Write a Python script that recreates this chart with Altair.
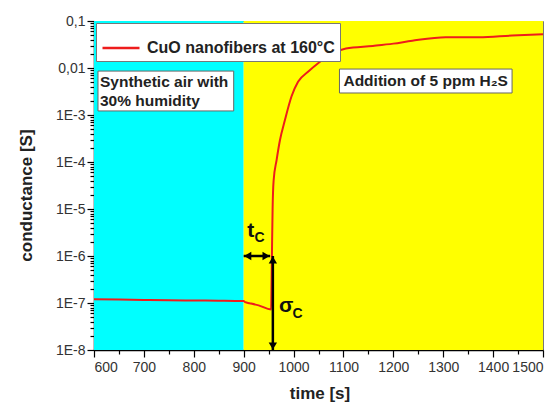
import altair as alt
import pandas as pd

# --- data ---
time_s = [600, 650, 700, 750, 800, 850, 900, 903, 912, 930, 955, 956, 957, 958, 960,
          966, 972.7, 982.7, 996, 1009, 1029, 1053, 1072, 1105, 1159, 1200, 1238,
          1305, 1372, 1438, 1500]
conductance = [1.2e-7, 1.18e-7, 1.16e-7, 1.14e-7, 1.13e-7, 1.12e-7, 1.1e-7, 1.04e-7,
               9.9e-8, 8.9e-8, 7.3e-8, 3e-7, 2e-6, 1e-5, 4e-5, 1.1e-4, 2.9e-4, 7.8e-4,
               2.5e-3, 5.1e-3, 8.3e-3, 1.36e-2, 1.9e-2, 2.6e-2, 2.95e-2, 3.3e-2, 3.8e-2,
               4.5e-2, 4.5e-2, 4.9e-2, 5.2e-2]
series_name = "CuO nanofibers at 160°C"

region_start = [600, 900]
region_end = [900, 1500]
region_color = ["#00FFFF", "#FFFF00"]

x_ticks = [600, 700, 800, 900, 1000, 1100, 1200, 1300, 1400, 1500]
x_minor = [650, 750, 850, 950, 1050, 1150, 1250, 1350, 1450]
y_ticks = [1e-8, 1e-7, 1e-6, 1e-5, 1e-4, 1e-3, 1e-2, 1e-1]
y_minor = [m * 10.0 ** e for e in range(-8, -1) for m in range(2, 10)]

# annotation boxes (data units)
box_x = [608, 1092]
box_x2 = [880, 1438]
box_y = [8.6e-3, 9.5e-3]
box_y2 = [1.22e-3, 2.94e-3]
box_text_x = [612, 1100]
box_text_y = [5.16e-3, 5.28e-3]
box_text = [["Synthetic air with", "30% humidity"], ["Addition of 5 ppm H₂S"]]

# t_C / sigma_C labels
sym_x = [914, 985]
sym_y = [2.54e-6, 6.4e-8]
sym_text = ["t", "σ"]
sub_x = [932, 1008]
sub_y = [2.0e-6, 4.8e-8]
sub_text = ["C", "C"]

# arrows
harrow_x, harrow_x2, harrow_y = 900, 953, 1e-6
varrow_x, varrow_y, varrow_y2 = 958.5, 1e-8, 1e-6

FONT = "Liberation Sans"
W, H = 449, 329

xscale = alt.Scale(domain=[600, 1500], nice=False, zero=False)
yscale = alt.Scale(type="log", domain=[1e-8, 0.1], nice=False)

line_df = pd.DataFrame({"t": time_s, "g": conductance, "s": [series_name] * len(time_s)})
reg_df = pd.DataFrame({"a": region_start, "b": region_end, "c": region_color})
box_df = pd.DataFrame({"x": box_x, "x2": box_x2, "y": box_y, "y2": box_y2})
btxt_df = pd.DataFrame({"x": box_text_x, "y": box_text_y, "txt": box_text})
sym_df = pd.DataFrame({"x": sym_x, "y": sym_y, "txt": sym_text})
sub_df = pd.DataFrame({"x": sub_x, "y": sub_y, "txt": sub_text})
ha_df = pd.DataFrame({"x": [harrow_x], "x2": [harrow_x2], "y": [harrow_y]})
va_df = pd.DataFrame({"x": [varrow_x], "y": [varrow_y], "y2": [varrow_y2]})

NOX = alt.X("x:Q", scale=xscale, axis=None)
NOY = alt.Y("y:Q", scale=yscale, axis=None)

bg = alt.Chart(reg_df).mark_rect().encode(
    x=alt.X("a:Q", scale=xscale, axis=None),
    x2="b:Q",
    fill=alt.Fill("c:N", scale=None),
)

major_axes = alt.Chart(line_df).mark_line(
    color="#EE1C1C", strokeWidth=2, interpolate="monotone"
).encode(
    x=alt.X("t:Q", scale=xscale, axis=alt.Axis(
        values=x_ticks, format="d", title="time [s]", orient="bottom",
        tickSize=7, labelPadding=3, titleX=225.5, titleY=43,
        titleBaseline="middle", titleAlign="center")),
    y=alt.Y("g:Q", scale=yscale, axis=alt.Axis(
        values=y_ticks, title="conductance [S]", orient="left", tickSize=7,
        labelPadding=2,
        labelExpr="datum.value >= 0.005 ? replace(format(datum.value, '~g'), '.', ',') : '1E' + round(log(datum.value) / LN10)",
        titleX=-68, titleY=174, titleAngle=-90, titleBaseline="middle", titleAlign="center")),
    color=alt.Color("s:N", scale=alt.Scale(domain=[series_name], range=["#EE1C1C"]),
                    legend=alt.Legend(title=None, orient="none", legendX=2, legendY=2,
                                      symbolType="stroke", symbolSize=1369,
                                      symbolStrokeWidth=2.5, labelFontSize=16,
                                      labelFontWeight="bold", labelColor="#222",
                                      labelFont=FONT, fillColor="white", labelLimit=0,
                                      strokeColor="#777", padding=5, labelOffset=6)),
)

minor_axes = alt.Chart(line_df).mark_line(opacity=0).encode(
    x=alt.X("t:Q", scale=xscale, axis=alt.Axis(
        values=x_minor, labels=False, domain=False, ticks=True, tickSize=4,
        title=None, orient="bottom")),
    y=alt.Y("g:Q", scale=yscale, axis=alt.Axis(
        values=y_minor, labels=False, domain=False, ticks=True, tickSize=4,
        title=None, orient="left")),
)

boxes = alt.Chart(box_df).mark_rect(fill="white", stroke="#666", strokeWidth=1).encode(
    x=NOX, x2="x2:Q", y=NOY, y2="y2:Q")

box_texts = alt.Chart(btxt_df).mark_text(
    align="left", baseline="middle", font=FONT, fontSize=15.5, fontWeight="bold",
    color="#222", lineHeight=19).encode(x=NOX, y=NOY, text="txt")

syms = alt.Chart(sym_df).mark_text(
    align="center", baseline="alphabetic", font=FONT, fontSize=21, fontWeight="bold",
    color="#111").encode(x=NOX, y=NOY, text="txt:N")
subs = alt.Chart(sub_df).mark_text(
    align="center", baseline="alphabetic", font=FONT, fontSize=14, fontWeight="bold",
    color="#111").encode(x=NOX, y=NOY, text="txt:N")

hline = alt.Chart(ha_df).mark_rule(color="black", strokeWidth=2.5).encode(
    x=NOX, x2="x2:Q", y=NOY)
vline = alt.Chart(va_df).mark_rule(color="black", strokeWidth=2.5).encode(
    x=NOX, y=NOY, y2="y2:Q")

head_l = alt.Chart(ha_df).mark_point(shape="triangle-left", filled=True, color="black",
                                     size=70, opacity=1, xOffset=4).encode(x=NOX, y=NOY)
head_r = alt.Chart(ha_df).mark_point(shape="triangle-right", filled=True, color="black",
                                     size=70, opacity=1, xOffset=-4).encode(
    x=alt.X("x2:Q", scale=xscale, axis=None), y=NOY)
head_d = alt.Chart(va_df).mark_point(shape="triangle-down", filled=True, color="black",
                                     size=70, opacity=1, yOffset=-4).encode(x=NOX, y=NOY)
head_u = alt.Chart(va_df).mark_point(shape="triangle-up", filled=True, color="black",
                                     size=70, opacity=1, yOffset=4).encode(
    x=NOX, y=alt.Y("y2:Q", scale=yscale, axis=None))

chart = alt.layer(
    bg, minor_axes, major_axes, boxes, box_texts, hline, vline,
    head_l, head_r, head_d, head_u, syms, subs
).resolve_axis(x="independent", y="independent").properties(
    width=W, height=H,
    autosize=alt.AutoSizeParams(type="none"),
    padding={"left": 86, "top": 13, "right": 8, "bottom": 52},
).configure_view(stroke="#777", strokeWidth=1).configure_axis(
    domainColor="black", domainWidth=1.5, tickColor="black", tickWidth=1.2,
    labelFont=FONT, labelFontSize=14, labelColor="#333",
    titleFont=FONT, titleFontSize=17, titleFontWeight="bold", titleColor="#222",
    grid=False,
)

chart.save("out.html", embed_options={"renderer": "svg", "actions": False})
